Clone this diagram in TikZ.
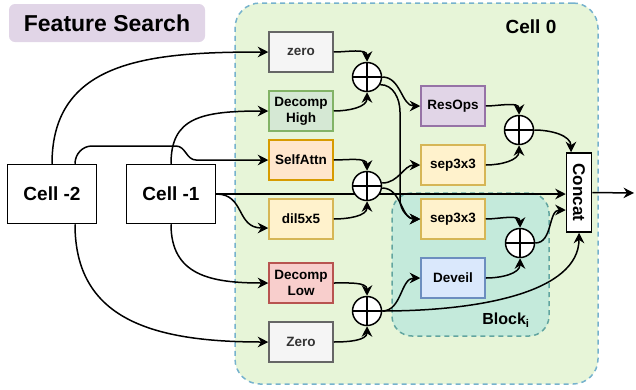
\documentclass[tikz,border=0pt]{standalone}
\usepackage{fontspec}
\setmainfont{Liberation Sans}
\usetikzlibrary{arrows.meta}

\definecolor{cellfill}{RGB}{231,245,216}
\definecolor{cellline}{RGB}{118,178,205}
\definecolor{blkfill}{RGB}{196,234,219}
\definecolor{blkline}{RGB}{98,165,160}
\definecolor{fsfill}{RGB}{225,213,231}
\definecolor{grayfill}{RGB}{245,245,245}
\definecolor{grayline}{RGB}{102,102,102}
\definecolor{graytext}{RGB}{51,51,51}
\definecolor{greenfill}{RGB}{213,232,212}
\definecolor{greenline}{RGB}{130,179,102}
\definecolor{orangefill}{RGB}{255,230,204}
\definecolor{orangeline}{RGB}{215,155,0}
\definecolor{yellowfill}{RGB}{255,242,204}
\definecolor{yellowline}{RGB}{214,182,86}
\definecolor{redfill}{RGB}{248,206,204}
\definecolor{redline}{RGB}{184,84,80}
\definecolor{purplefill}{RGB}{225,213,231}
\definecolor{purpleline}{RGB}{150,115,166}
\definecolor{bluefill}{RGB}{218,232,252}
\definecolor{blueline}{RGB}{108,142,191}

\begin{document}
\begin{tikzpicture}[x=1pt,y=-1pt,
  op/.style={draw, line width=1.5pt, minimum width=64pt, minimum height=40pt, inner sep=1pt,
    align=center, font=\bfseries\fontsize{13.5}{16}\selectfont},
  cellbox/.style={draw, fill=white, line width=1.5pt, minimum width=89pt, minimum height=59pt,
    font=\bfseries\fontsize{19}{22}\selectfont},
  sum/.style={circle, draw, fill=white, line width=1.5pt, minimum size=29pt, inner sep=0pt,
    path picture={\draw[line width=1.5pt] (path picture bounding box.north) -- (path picture bounding box.south)
      (path picture bounding box.west) -- (path picture bounding box.east);}},
  arr/.style={line width=1.5pt, -{Stealth[length=10.5pt,width=10.5pt,inset=3.5pt]}},
  ]
\useasboundingbox (0,0) rectangle (636,389);

% containers
\node[fill=fsfill, rounded corners=6pt, minimum width=196pt, minimum height=38pt,
      font=\bfseries\fontsize{23}{26}\selectfont] (fs) at (107,23) {Feature Search};
\node[draw=cellline, fill=cellfill, line width=1.5pt, dash pattern=on 5pt off 4pt,
      rounded corners=25pt, minimum width=363pt, minimum height=381pt] (cell0) at (416.5,193.5) {};
\node[font=\bfseries\fontsize{19}{22}\selectfont] (cell0title) at (531,27) {Cell 0};
\node[draw=blkline, fill=blkfill, line width=1.5pt, dash pattern=on 5pt off 4pt,
      rounded corners=20pt, minimum width=157pt, minimum height=143pt] (blk) at (470.5,264.5) {};
\node[font=\bfseries\fontsize{16}{19}\selectfont] (blktitle) at (506,320) {Block\textsubscript{i}};

% inputs and output
\node[cellbox] (c2) at (52,194) {Cell -2};
\node[cellbox] (c1) at (171,194) {Cell -1};
\node[draw, fill=white, line width=1.5pt, minimum width=25pt, minimum height=79pt,
      label={[rotate=-90, font=\bfseries\fontsize{17}{20}\selectfont]center:Concat}] (concat) at (579,192.5) {};
\coordinate (out) at (634,193);

\draw[arr] (c1.east) -- (c1.east -| concat.west); %<-- straight skip to Concat

% operations
\node[op, fill=grayfill, draw=grayline, text=graytext] (zero) at (301,52) {zero};
\node[op, fill=greenfill, draw=greenline] (dh) at (301,111) {Decomp\\High};
\node[op, fill=orangefill, draw=orangeline] (sa) at (301,160) {SelfAttn};
\node[op, fill=yellowfill, draw=yellowline] (dil) at (301,219) {dil5x5};
\node[op, fill=redfill, draw=redline] (dl) at (301,283) {Decomp\\Low};
\node[op, fill=grayfill, draw=grayline, text=graytext] (zr) at (301,342) {Zero};
\node[op, fill=purplefill, draw=purpleline] (rop) at (453,106) {ResOps};
\node[op, fill=yellowfill, draw=yellowline] (sepa) at (453,165) {sep3x3};
\node[op, fill=yellowfill, draw=yellowline] (sepb) at (453,219) {sep3x3};
\node[op, fill=bluefill, draw=blueline] (dev) at (453,278) {Deveil};

% sums
\node[sum] (s1) at (367,77) {};
\node[sum] (s2) at (367,186) {};
\node[sum] (s3) at (367,311) {};
\node[sum] (s4) at (519,130) {};
\node[sum] (s5) at (520,243) {};

% edges from the input cells
\draw[arr] (c2.north) .. controls (52,60) and (150,52) .. (zero.west);
\draw[arr] ([xshift=23pt]c2.north) to[out=90,in=180] (92,146) -- (176,146) to[out=0,in=180] (196,160) -- (sa.west);
\draw[arr] (c1.north) .. controls (171,118) and (200,111) .. (dh.west);
\draw[arr] (c1.east) .. controls (245,194) and (236,228) .. ([yshift=-9pt]dil.west);
\draw[arr] (c1.south) .. controls (171,275) and (210,283) .. (dl.west);
\draw[arr] ([xshift=23pt]c2.south) .. controls (75,318) and (150,342) .. (zr.west);

% edges inside the cell
\draw[arr] (zero.east) to[out=0,in=90] (s1.north);
\draw[arr] (dh.east) to[out=0,in=-90] (s1.south);
\draw[arr] (sa.east) to[out=0,in=90] (s2.north);
\draw[arr] (dil.east) to[out=0,in=-90] (s2.south);
\draw[arr] (dl.east) to[out=0,in=90] (s3.north);
\draw[arr] (zr.east) to[out=0,in=-90] (s3.south);

\draw[arr] (s1.east) to[out=0,in=180] (rop.west);
\draw[arr] (s1.-30) to[out=0,in=90] (400,112) -- (400,200) to[out=-90,in=180] (sepb.west);
\draw[arr] ([yshift=3pt]s2.east) to[out=0,in=180] (sepa.west);
\draw[arr] ([yshift=-2pt]s2.east) to[out=0,in=180] (sepb.west);
\draw[arr] (s3.east) to[out=0,in=180] (dev.west);
\draw[arr] (s3.east) .. controls (480,311) and (579,292) .. (concat.south);

\draw[arr] (rop.east) to[out=0,in=90] (s4.north);
\draw[arr] (sepa.east) to[out=0,in=-90] (s4.south);
\draw[arr] (sepb.east) to[out=0,in=90] (s5.north);
\draw[arr] (dev.east) to[out=0,in=-90] (s5.south);
\draw[arr] (s4.east) to[out=0,in=90] ([xshift=-8pt]concat.north);
\draw[arr] (s5.east) to[out=0,in=180] ([yshift=-17.5pt]concat.west);
\draw[arr] (concat.east) -- (out);
\end{tikzpicture}
\end{document}
